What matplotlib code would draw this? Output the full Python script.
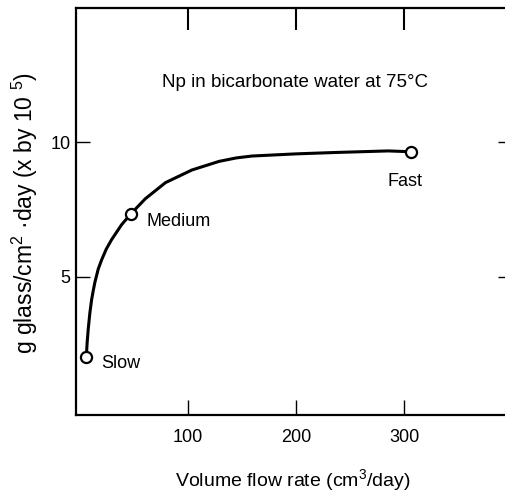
import matplotlib
matplotlib.use("Agg")
import matplotlib.pyplot as plt

plt.rcParams['font.family'] = ['Liberation Sans', 'DejaVu Sans']
plt.rcParams['mathtext.fontset'] = 'custom'
plt.rcParams['mathtext.rm'] = 'Liberation Sans'
plt.rcParams['mathtext.it'] = 'Liberation Sans'

# Measured points
point_names = ["Slow", "Medium", "Fast"]
point_x = [6.5, 48, 306]
point_y = [2.0, 7.35, 9.65]

# Hand-drawn curve
curve_x = [6.5, 7.3, 8.3, 9.8, 11.4, 13, 14.5, 17.5, 20.7, 25, 29.9, 39.2, 48.4, 61, 79.6, 104, 129, 145, 159.5, 200, 235, 285, 306]
curve_y = [2.0, 2.55, 3.05, 3.65, 4.14, 4.5, 4.8, 5.28, 5.63, 6.03, 6.38, 6.94, 7.37, 7.9, 8.5, 8.97, 9.29, 9.42, 9.49, 9.57, 9.62, 9.68, 9.65]

x_ticks = [100, 200, 300]
y_ticks = [5, 10]

fig = plt.figure(figsize=(5.05, 4.92), dpi=100)
ax = fig.add_axes([76/505, 77/492, 429/505, 407/492])

ax.plot(curve_x, curve_y, color='black', lw=2.2, zorder=2, solid_capstyle='round',
        solid_joinstyle='round')
ax.plot(point_x, point_y, 'o', ms=8, mfc='white', mec='black', mew=1.6, zorder=3, linestyle='none')

ax.set_xlim(-3, 393)
ax.set_ylim(-0.15, 15)

ax.set_xticks(x_ticks)
ax.set_xticklabels([str(v) for v in x_ticks], fontsize=13)
ax.set_yticks(y_ticks)
ax.set_yticklabels([str(v) for v in y_ticks], fontsize=13)

ax.tick_params(axis='x', which='major', direction='in', length=11, width=1.0,
               top=True, bottom=True, pad=10)
ax.tick_params(axis='y', which='major', direction='in', length=10, width=1.0,
               left=True, right=True, pad=4)

# top ticks longer, right ticks shorter
for t in ax.xaxis.get_major_ticks():
    t.tick2line.set_markersize(16)
    t.tick2line.set_markeredgewidth(1.5)
for t in ax.yaxis.get_major_ticks():
    t.tick2line.set_markersize(5)

for s in ['left', 'bottom', 'top']:
    ax.spines[s].set_linewidth(1.6)
ax.spines['right'].set_visible(False)

ax.text(0.51, 0.817, "Np in bicarbonate water at 75°C", transform=ax.transAxes,
        ha='center', va='center', fontsize=13.5)

ax.text(point_x[0] + 13.5, point_y[0] - 0.25, point_names[0], ha='left', va='center', fontsize=13)
ax.text(point_x[1] + 14.5, point_y[1] - 0.3, point_names[1], ha='left', va='center', fontsize=13)
ax.text(point_x[2] - 5, point_y[2] - 1.1, point_names[2], ha='center', va='center', fontsize=13)

fig.text(293/505, 1 - 480/492, "Volume flow rate (cm$^3$/day)", ha='center', va='center', fontsize=14)
fig.text(25/505, 1 - 213/492, "g glass/cm$^2$ ·day (x by 10 $^5$)", ha='center', va='center',
         rotation=90, fontsize=16.5)

fig.savefig("out.png", dpi=100)
